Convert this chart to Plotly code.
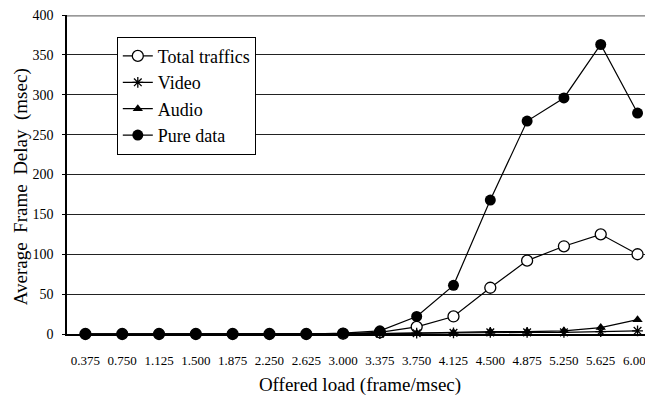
import plotly.graph_objects as go

loads = ["0.375", "0.750", "1.125", "1.500", "1.875", "2.250", "2.625", "3.000",
         "3.375", "3.750", "4.125", "4.500", "4.875", "5.250", "5.625", "6.000"]
total = [0, 0, 0, 0, 0, 0, 0, 0.5, 2, 9, 22, 58, 92, 110, 125, 100]
video = [0, 0, 0, 0, 0, 0, 0, 0, 0.5, 1, 1.5, 2, 2, 2, 3, 4]
audio = [0, 0, 0, 0, 0, 0, 0, 0, 0.5, 1, 2, 3, 3, 4, 8, 18]
pure = [0, 0, 0, 0, 0, 0, 0, 1, 4, 22, 61, 168, 267, 296, 363, 277]
y_ticks = [0, 50, 100, 150, 200, 250, 300, 350, 400]

font_family = "Liberation Serif"
idx = list(range(len(loads)))
boundaries = [i + 0.5 for i in range(-1, len(loads))]
x_range = [-0.5, 15.42]

fig = go.Figure()
series = [
    ("Total traffics", total, dict(symbol="circle", size=11, color="white", line=dict(width=1.3, color="black"))),
    ("Video", video, dict(symbol="asterisk-open", size=9, color="black", line=dict(width=1.3, color="black"))),
    ("Audio", audio, dict(symbol="triangle-up", size=9, color="black")),
    ("Pure data", pure, dict(symbol="circle", size=11, color="black")),
]
for name, vals, mk in series:
    fig.add_trace(go.Scatter(
        x=idx, y=vals, name=name, mode="lines+markers",
        line=dict(color="black", width=1.2),
        marker=mk, cliponaxis=False,
    ))

# top gridline (at the plot edge)
fig.add_shape(type="line", xref="paper", yref="paper", x0=0, x1=1, y0=0.997, y1=0.997,
              line=dict(color="#777", width=1.2), layer="above")

fig.add_annotation(
    text="Average\u00a0\u00a0Frame\u00a0\u00a0Delay\u00a0\u00a0(msec)",
    textangle=-90, xref="paper", yref="paper", x=-0.079, y=0.462,
    xanchor="center", yanchor="middle", showarrow=False,
    font=dict(family=font_family, size=19, color="black"),
)

# page body has an 8px margin: size the figure to fit the 653x399 window
fig.update_layout(
    width=645, height=391,
    margin=dict(l=59, r=0, t=7, b=65),
    paper_bgcolor="white", plot_bgcolor="white",
    font=dict(family=font_family, color="black", size=14),
    showlegend=True,
    legend=dict(
        x=0.085, y=0.932, xanchor="left", yanchor="top",
        bgcolor="white", bordercolor="black", borderwidth=1,
        font=dict(family=font_family, size=18, color="black"),
        tracegroupgap=0, itemwidth=30,
    ),
    xaxis=dict(
        range=x_range, automargin=False,
        tickmode="array", tickvals=idx, ticktext=loads,
        showgrid=False, showline=True, linecolor="black", linewidth=1.5,
        ticks="", tickangle=0, ticklabelstandoff=14,
        tickfont=dict(family=font_family, size=13),
        title=dict(text="Offered load (frame/msec)", font=dict(family=font_family, size=19), standoff=10),
        zeroline=False,
    ),
    # overlay axis carrying the small inside ticks between categories
    xaxis2=dict(
        overlaying="x", anchor="y", side="bottom", range=x_range, automargin=False,
        tickmode="array", tickvals=boundaries, ticks="inside", ticklen=4,
        tickcolor="black", tickwidth=1, showticklabels=False,
        showgrid=False, showline=False, zeroline=False,
    ),
    yaxis=dict(
        range=[0, 400], tickvals=y_ticks, automargin=False,
        showgrid=True, gridcolor="#222", gridwidth=1,
        showline=True, linecolor="black", linewidth=1.5,
        ticks="outside", ticklen=3, tickcolor="black",
        ticklabelstandoff=6, ticklabeloverflow="allow",
        tickfont=dict(family=font_family, size=14),
        zeroline=False,
    ),
)

fig.write_html("out.html")
